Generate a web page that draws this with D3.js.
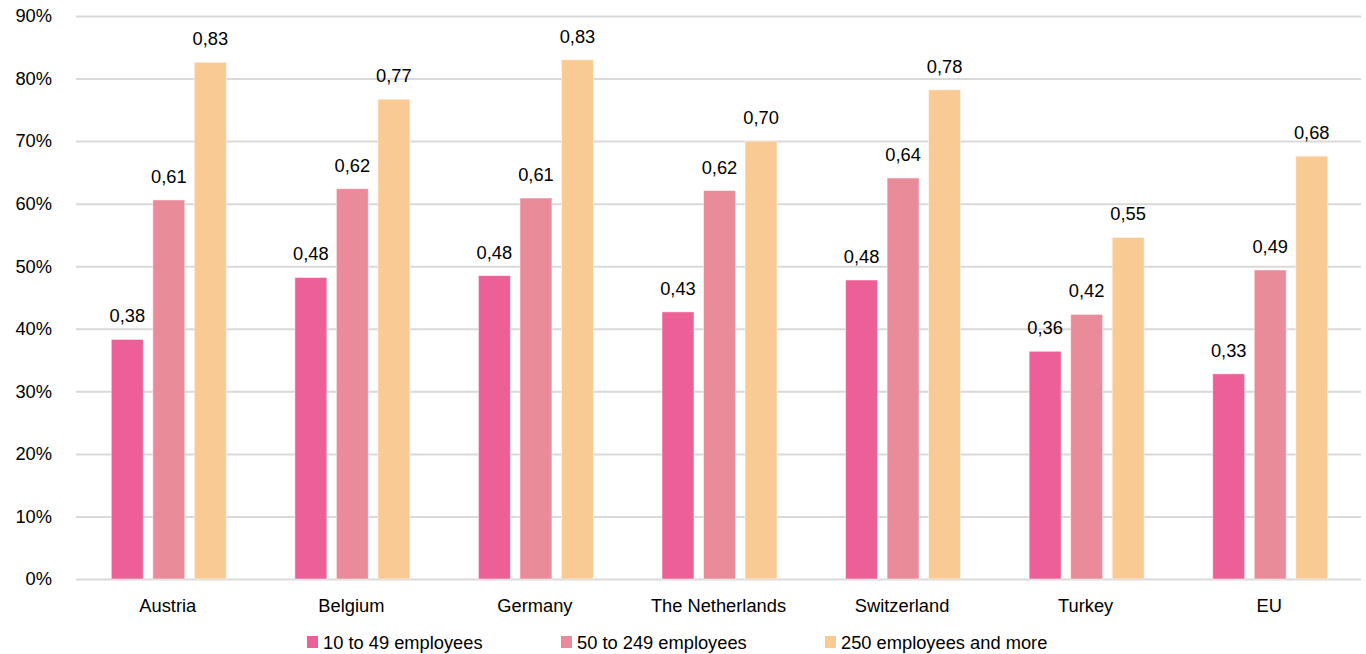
<!DOCTYPE html>
<html>
<head>
<meta charset="utf-8">
<script src="https://cdn.jsdelivr.net/npm/d3@7"></script>
<style>
  html, body { margin: 0; padding: 0; background: #fff; }
  svg { display: block; font-family: "Liberation Sans", Arial, sans-serif; }
</style>
</head>
<body>
<svg id="chart" width="1366" height="654"></svg>
<script>
// Share of enterprises by size class, per country
const countries = ["Austria", "Belgium", "Germany", "The Netherlands", "Switzerland", "Turkey", "EU"];
const seriesNames = ["10 to 49 employees", "50 to 249 employees", "250 employees and more"];
const small  = [0.383, 0.482, 0.485, 0.427, 0.478, 0.364, 0.328];
const medium = [0.606, 0.624, 0.609, 0.621, 0.641, 0.423, 0.494];
const large  = [0.826, 0.767, 0.830, 0.700, 0.782, 0.546, 0.676];
const yTicks = [0, 0.1, 0.2, 0.3, 0.4, 0.5, 0.6, 0.7, 0.8, 0.9];
const colors = ["#EC5F97", "#E98B98", "#F9CA94"];

const seriesValues = [small, medium, large];
const rows = countries.map((c, i) => ({
  country: c,
  values: seriesNames.map((s, k) => ({ series: s, k, value: seriesValues[k][i] }))
}));

const FONT = 18.3;
const svg = d3.select("#chart");
const plotLeft = 76, plotRight = 1361, plotTop = 16, plotBottom = 579;

const y = d3.scaleLinear().domain([0, 0.9]).range([plotBottom, plotTop]);
const x0 = d3.scaleBand().domain(countries).range([plotLeft, plotRight]).padding(0);
const x1 = d3.scaleBand().domain(seriesNames).range([0, 115]).paddingInner(0.23);
const innerOffset = (x0.bandwidth() - 115) / 2 + 1;
const color = d3.scaleOrdinal().domain(seriesNames).range(colors);

// horizontal gridlines with percent labels
const yAxis = d3.axisLeft(y)
  .tickValues(yTicks)
  .tickFormat(d3.format(".0%"))
  .tickSize(-(plotRight - plotLeft))
  .tickPadding(24);

const gy = svg.append("g").attr("transform", `translate(${plotLeft},0)`).call(yAxis);
gy.select(".domain").remove();
gy.selectAll(".tick line").attr("stroke", "#d9d9d9").attr("stroke-width", 2);
gy.selectAll(".tick text").attr("font-size", FONT).attr("fill", "#000");

// category labels
const xAxis = d3.axisBottom(x0).tickSize(0).tickPadding(20);
const gx = svg.append("g").attr("transform", `translate(0,${plotBottom})`).call(xAxis);
gx.select(".domain").remove();
gx.selectAll(".tick text").attr("font-size", FONT).attr("fill", "#000");

// bars
const groups = svg.append("g").selectAll("g")
  .data(rows).join("g")
  .attr("transform", d => `translate(${x0(d.country) + innerOffset},0)`);

groups.selectAll("rect")
  .data(d => d.values).join("rect")
  .attr("x", d => x1(d.series))
  .attr("y", d => y(d.value))
  .attr("width", x1.bandwidth())
  .attr("height", d => y(0) - y(d.value))
  .attr("fill", d => color(d.series))
  .attr("stroke", "#fff")
  .attr("stroke-opacity", 0.5)
  .attr("stroke-width", 1);

const fmt = v => d3.format(".2f")(v).replace(".", ",");
groups.selectAll("text.val")
  .data(d => d.values).join("text")
  .attr("class", "val")
  .attr("x", d => x1(d.series) + x1.bandwidth() / 2)
  .attr("y", d => y(d.value) - 17)
  .attr("text-anchor", "middle")
  .attr("font-size", FONT)
  .attr("fill", "#000")
  .text(d => fmt(d.value));

// legend
const legendX = [307, 561, 825];
const legend = svg.append("g").selectAll("g")
  .data(seriesNames).join("g")
  .attr("transform", (d, i) => `translate(${legendX[i]},636)`);
legend.append("rect").attr("width", 11).attr("height", 12).attr("fill", d => color(d));
legend.append("text").attr("x", 16).attr("y", 13).attr("font-size", FONT).attr("fill", "#000").text(d => d);
</script>
</body>
</html>
